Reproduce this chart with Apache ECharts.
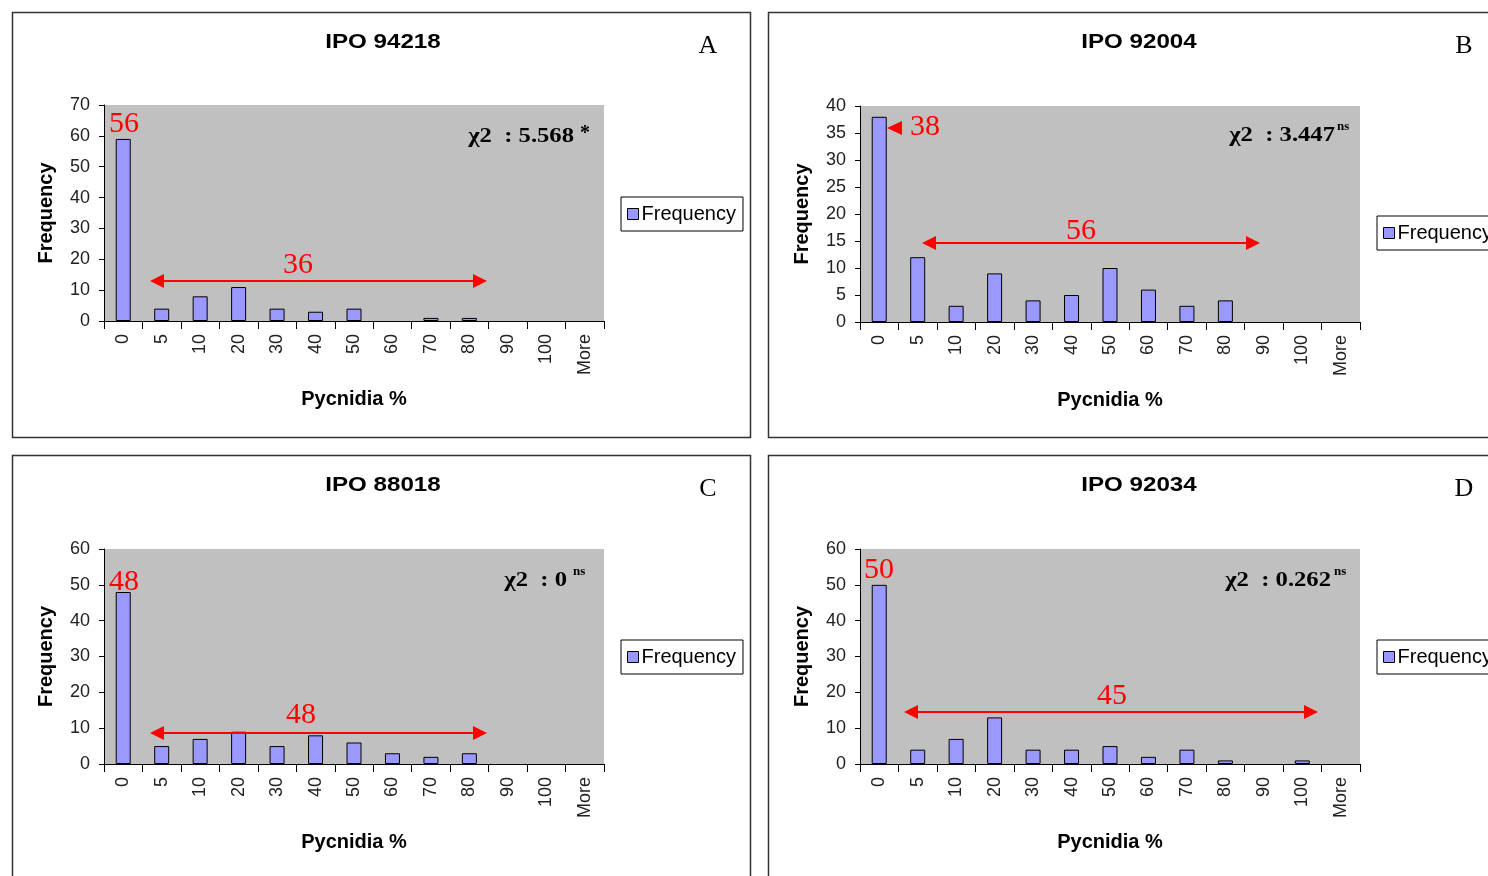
<!DOCTYPE html>
<html><head><meta charset="utf-8">
<script src="https://cdn.jsdelivr.net/npm/echarts@6/dist/echarts.min.js"></script>
<style>html,body{margin:0;padding:0;background:#fff}#c{width:1488px;height:876px}</style>
</head><body><div id="c"></div>
<script>
// ---- data ----
const categories = ['0','5','10','20','30','40','50','60','70','80','90','100','More'];
const freqA = [59,4,8,11,4,3,4,0,1,1,0,0,0];
const freqB = [38,12,3,9,4,5,10,6,3,4,0,0,0];
const freqC = [48,5,7,9,5,8,6,3,2,3,0,0,0];
const freqD = [50,4,7,13,4,4,5,2,4,1,0,1,0];
const titles = ['IPO 94218','IPO 92004','IPO 88018','IPO 92034'];
const letters = ['A','B','C','D'];
const yMax = [70,40,60,60];
const yInterval = [10,5,10,10];
const chiValues = ['5.568','3.447','0','0.262'];
const chiMarks = ['*','ns','ns','ns'];
const peakLabels = ['56','38','48','50'];
const rangeLabels = ['36','56','48','45'];
const seriesName = 'Frequency';
const xName = 'Pycnidia %';
const yName = 'Frequency';

const freqs = [freqA, freqB, freqC, freqD];

// ---- layout ----
const SANS = '"Liberation Sans", Arial, sans-serif';
const SERIF = '"Liberation Serif", "Times New Roman", serif';
const RED = '#ff0000';
const panels = [
  {px:12,  py:12,  pw:738, ph:425, gl:104, gt:105, gh:216, legTop:197, chiY:136, chiEnd:574, markX:580,
   peak:{x:124,y:124}, arrow:{x1:150,x2:487,y:281}, range:{x:298,y:265}},
  {px:768, py:12,  pw:740, ph:425, gl:860, gt:106, gh:216, legTop:216, chiY:135, chiEnd:1335, markX:1337,
   peak:{x:925,y:127}, arrow:{x1:922,x2:1260,y:243}, range:{x:1081,y:231}, peakArrow:{x:887,y:128}},
  {px:12,  py:455, pw:738, ph:440, gl:104, gt:549, gh:215, legTop:640, chiY:580, chiEnd:567, markX:573,
   peak:{x:124,y:582}, arrow:{x1:150,x2:487,y:733}, range:{x:301,y:715}},
  {px:768, py:455, pw:740, ph:440, gl:860, gt:549, gh:215, legTop:640, chiY:580, chiEnd:1331, markX:1334,
   peak:{x:879,y:570}, arrow:{x1:904,x2:1318,y:712}, range:{x:1112,y:696}}
];

const grids = [], xAxes = [], yAxes = [], series = [], legends = [], graphics = [];

function dblArrow(x1, x2, y) {
  return [
    {type:'line', shape:{x1:x1+8, y1:y, x2:x2-8, y2:y}, style:{stroke:RED, lineWidth:2}, z:100},
    {type:'polygon', shape:{points:[[x1,y],[x1+14,y-7],[x1+14,y+7]]}, style:{fill:RED}, z:100},
    {type:'polygon', shape:{points:[[x2,y],[x2-14,y-7],[x2-14,y+7]]}, style:{fill:RED}, z:100}
  ];
}

panels.forEach((p, i) => {
  grids.push({left:p.gl, top:p.gt, width:500, height:p.gh, show:true, backgroundColor:'#c0c0c0', borderWidth:0, containLabel:false});
  xAxes.push({
    type:'category', gridIndex:i, data:categories, boundaryGap:true,
    name:xName, nameLocation:'middle', nameGap:68,
    nameTextStyle:{fontFamily:SANS, fontWeight:'bold', fontSize:20, color:'#000'},
    axisLine:{show:true, lineStyle:{color:'#000', width:1}},
    axisTick:{show:true, length:8, alignWithLabel:false, lineStyle:{color:'#000'}},
    axisLabel:{rotate:90, interval:0, margin:13, fontFamily:SANS, fontSize:18, color:'#222'},
    splitLine:{show:false}
  });
  yAxes.push({
    type:'value', gridIndex:i, min:0, max:yMax[i], interval:yInterval[i],
    name:yName, nameLocation:'middle', nameRotate:90, nameGap:48,
    nameTextStyle:{fontFamily:SANS, fontWeight:'bold', fontSize:20, color:'#000'},
    axisLine:{show:true, lineStyle:{color:'#000', width:1}},
    axisTick:{show:true, length:5, lineStyle:{color:'#000'}},
    axisLabel:{margin:14, fontFamily:SANS, fontSize:18, color:'#222'},
    splitLine:{show:false}
  });
  series.push({
    type:'bar', name:seriesName, xAxisIndex:i, yAxisIndex:i,
    data:freqs[i].map(v => v === 0 ? {value:v, itemStyle:{borderWidth:0, opacity:0}} : v),
    barWidth:15, itemStyle:{color:'#9999ff', borderColor:'#000', borderWidth:1},
    emphasis:{disabled:true}, animation:false
  });
  legends.push({
    data:[seriesName], left:p.gl+517, top:p.legTop, orient:'vertical',
    backgroundColor:'#fff', borderColor:'#000', borderWidth:1, padding:[7,7,7,6],
    icon:'rect', itemWidth:11, itemHeight:11, itemGap:0,
    itemStyle:{borderColor:'#000', borderWidth:1, opacity:1},
    textStyle:{fontFamily:SANS, fontSize:20, color:'#000', padding:[0,0,0,-2]},
    selectedMode:false
  });

  // panel frame
  graphics.push({type:'rect', shape:{x:p.px+0.5, y:p.py+0.5, width:p.pw, height:p.ph},
    style:{fill:'none', stroke:'#333', lineWidth:1.5}, z:0, silent:true});
  // title
  graphics.push({type:'text', x:p.gl+279, y:p.py+30, scaleX:1.15, z:100,
    style:{text:titles[i], font:'bold 21px '+SANS, fill:'#000', textAlign:'center', textVerticalAlign:'middle'}});
  // panel letter
  graphics.push({type:'text', x:p.gl+604, y:p.py+34, z:100,
    style:{text:letters[i], font:'26px '+SERIF, fill:'#000', textAlign:'center', textVerticalAlign:'middle'}});
  // chi-square
  graphics.push({type:'text', x:p.chiEnd, y:p.chiY, scaleX:1.12, z:100,
    style:{text:'\u03C72  : '+chiValues[i], font:'bold 22px '+SERIF, fill:'#000', textAlign:'right', textVerticalAlign:'middle'}});
  if (chiMarks[i] === '*') {
    graphics.push({type:'text', x:p.markX, y:p.chiY-2, z:100,
      style:{text:'*', font:'bold 20px '+SERIF, fill:'#000', textAlign:'left', textVerticalAlign:'middle'}});
  } else {
    graphics.push({type:'text', x:p.markX, y:p.chiY-8, z:100,
      style:{text:chiMarks[i], font:'bold 13px '+SERIF, fill:'#000', textAlign:'left', textVerticalAlign:'middle'}});
  }
  // red peak label
  graphics.push({type:'text', x:p.peak.x, y:p.peak.y, z:100,
    style:{text:peakLabels[i], font:'30px '+SERIF, fill:RED, textAlign:'center', textVerticalAlign:'middle'}});
  if (p.peakArrow) {
    const a = p.peakArrow;
    graphics.push({type:'polygon', z:100, shape:{points:[[a.x,a.y],[a.x+15,a.y-7],[a.x+15,a.y+7]]}, style:{fill:RED}});
  }
  // range arrow + label
  dblArrow(p.arrow.x1, p.arrow.x2, p.arrow.y).forEach(g => graphics.push(g));
  graphics.push({type:'text', x:p.range.x, y:p.range.y, z:100,
    style:{text:rangeLabels[i], font:'30px '+SERIF, fill:RED, textAlign:'center', textVerticalAlign:'middle'}});
});

const chart = echarts.init(document.getElementById('c'), null, {renderer:'canvas'});
chart.setOption({
  backgroundColor:'#fff',
  animation:false,
  grid:grids, xAxis:xAxes, yAxis:yAxes, series:series, legend:legends,
  graphic:{elements:graphics}
});
</script>
</body></html>
